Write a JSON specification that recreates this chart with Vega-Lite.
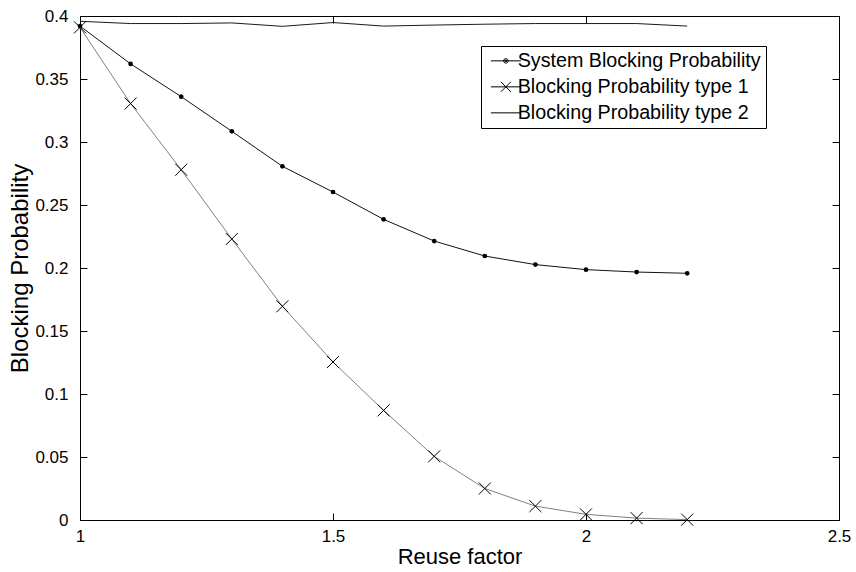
{
  "$schema": "https://vega.github.io/schema/vega-lite/v6.json",
  "width": 759,
  "height": 504,
  "autosize": {"type": "none"},
  "padding": {"left": 80, "top": 16, "right": 17, "bottom": 52},
  "background": "white",
  "config": {
    "font": "Liberation Sans",
    "view": {"stroke": "black", "strokeWidth": 1},
    "axis": {
      "grid": false,
      "domain": false,
      "tickColor": "black",
      "tickSize": -7,
      "tickWidth": 1,
      "labelFont": "Liberation Sans",
      "labelFontSize": 17,
      "labelColor": "black",
      "labelFlush": false,
      "labelOverlap": false,
      "titleFont": "Liberation Sans",
      "titleFontWeight": "normal",
      "titleColor": "black"
    }
  },
  "data": {
    "values": [
      {"x": 1.0, "series": "System Blocking Probability", "p": 0.392},
      {"x": 1.1, "series": "System Blocking Probability", "p": 0.362},
      {"x": 1.2, "series": "System Blocking Probability", "p": 0.336},
      {"x": 1.3, "series": "System Blocking Probability", "p": 0.3085},
      {"x": 1.4, "series": "System Blocking Probability", "p": 0.2807},
      {"x": 1.5, "series": "System Blocking Probability", "p": 0.2603},
      {"x": 1.6, "series": "System Blocking Probability", "p": 0.2386},
      {"x": 1.7, "series": "System Blocking Probability", "p": 0.2214},
      {"x": 1.8, "series": "System Blocking Probability", "p": 0.2095},
      {"x": 1.9, "series": "System Blocking Probability", "p": 0.2027},
      {"x": 2.0, "series": "System Blocking Probability", "p": 0.1987},
      {"x": 2.1, "series": "System Blocking Probability", "p": 0.1968},
      {"x": 2.2, "series": "System Blocking Probability", "p": 0.1958},
      {"x": 1.0, "series": "Blocking Probability type 1", "p": 0.391},
      {"x": 1.1, "series": "Blocking Probability type 1", "p": 0.3305},
      {"x": 1.2, "series": "Blocking Probability type 1", "p": 0.278},
      {"x": 1.3, "series": "Blocking Probability type 1", "p": 0.223},
      {"x": 1.4, "series": "Blocking Probability type 1", "p": 0.1696},
      {"x": 1.5, "series": "Blocking Probability type 1", "p": 0.1254},
      {"x": 1.6, "series": "Blocking Probability type 1", "p": 0.087},
      {"x": 1.7, "series": "Blocking Probability type 1", "p": 0.0505},
      {"x": 1.8, "series": "Blocking Probability type 1", "p": 0.025},
      {"x": 1.9, "series": "Blocking Probability type 1", "p": 0.011},
      {"x": 2.0, "series": "Blocking Probability type 1", "p": 0.0045},
      {"x": 2.1, "series": "Blocking Probability type 1", "p": 0.0015},
      {"x": 2.2, "series": "Blocking Probability type 1", "p": 0.0003},
      {"x": 1.0, "series": "Blocking Probability type 2", "p": 0.3958},
      {"x": 1.1, "series": "Blocking Probability type 2", "p": 0.394},
      {"x": 1.2, "series": "Blocking Probability type 2", "p": 0.394},
      {"x": 1.3, "series": "Blocking Probability type 2", "p": 0.3945},
      {"x": 1.4, "series": "Blocking Probability type 2", "p": 0.3918},
      {"x": 1.5, "series": "Blocking Probability type 2", "p": 0.3948},
      {"x": 1.6, "series": "Blocking Probability type 2", "p": 0.392},
      {"x": 1.7, "series": "Blocking Probability type 2", "p": 0.3928},
      {"x": 1.8, "series": "Blocking Probability type 2", "p": 0.3935},
      {"x": 1.9, "series": "Blocking Probability type 2", "p": 0.394},
      {"x": 2.0, "series": "Blocking Probability type 2", "p": 0.394},
      {"x": 2.1, "series": "Blocking Probability type 2", "p": 0.394},
      {"x": 2.2, "series": "Blocking Probability type 2", "p": 0.392}
    ]
  },
  "layer": [
    {
      "mark": {"type": "line", "strokeWidth": 1},
      "encoding": {
        "x": {
          "field": "x", "type": "quantitative",
          "scale": {"domain": [1, 2.5], "nice": false, "zero": false},
          "axis": {"orient": "bottom", "values": [1, 1.5, 2, 2.5], "format": "~g", "title": "Reuse factor", "titleFontSize": 22, "labelPadding": 15, "titlePadding": 2}
        },
        "y": {
          "field": "p", "type": "quantitative",
          "scale": {"domain": [0, 0.4], "nice": false, "zero": false},
          "axis": {"orient": "left", "values": [0, 0.05, 0.1, 0.15, 0.2, 0.25, 0.3, 0.35, 0.4], "format": "~g", "title": "Blocking Probability", "titleFontSize": 24, "labelPadding": 19, "titlePadding": 2}
        },
        "stroke": {
          "field": "series", "type": "nominal",
          "scale": {"range": ["#808080", "#1a1a1a", "#111111"]},
          "legend": null
        }
      }
    },
    {
      "transform": [{"filter": "datum.series === 'System Blocking Probability'"}],
      "mark": {"type": "point", "shape": "circle", "filled": true, "size": 22, "color": "black", "opacity": 1},
      "encoding": {
        "x": {
          "field": "x", "type": "quantitative",
          "axis": {"orient": "top", "values": [1, 1.5, 2, 2.5], "labels": false, "title": null}
        },
        "y": {
          "field": "p", "type": "quantitative",
          "axis": {"orient": "right", "values": [0, 0.05, 0.1, 0.15, 0.2, 0.25, 0.3, 0.35, 0.4], "labels": false, "title": null}
        }
      }
    },
    {
      "transform": [{"filter": "datum.series === 'Blocking Probability type 1'"}],
      "mark": {"type": "point", "shape": "M-1,-1L1,1M-1,1L1,-1", "filled": false, "size": 144, "stroke": "black", "strokeWidth": 1, "opacity": 1},
      "encoding": {
        "x": {"field": "x", "type": "quantitative", "axis": null},
        "y": {"field": "p", "type": "quantitative", "axis": null}
      }
    },
    {
      "transform": [{"filter": "datum.x > 100"}],
      "mark": {"type": "point", "filled": false, "size": 100, "color": "black", "strokeWidth": 1, "opacity": 1},
      "encoding": {
        "x": {"field": "x", "type": "quantitative", "axis": null},
        "y": {"field": "p", "type": "quantitative", "axis": null},
        "shape": {
          "field": "series", "type": "nominal",
          "scale": {
            "domain": ["System Blocking Probability", "Blocking Probability type 1", "Blocking Probability type 2"],
            "range": [
              "M-3,0L3,0M-0.45,0A0.45,0.45,0,1,0,0.45,0A0.45,0.45,0,1,0,-0.45,0M-0.2,0A0.2,0.2,0,1,0,0.2,0A0.2,0.2,0,1,0,-0.2,0",
              "M-3,0L3,0M-1,-1L1,1M-1,1L1,-1",
              "M-3,0L3,0"
            ]
          },
          "legend": {
            "title": null,
            "orient": "none",
            "legendX": 401,
            "legendY": 30,
            "strokeColor": "black",
            "fillColor": "white",
            "padding": 5,
            "symbolOffset": 10,
            "labelOffset": 2,
            "symbolSize": 100,
            "symbolOpacity": 1,
            "symbolStrokeColor": "black",
            "symbolStrokeWidth": 1,
            "labelFont": "Liberation Sans",
            "labelFontSize": 19.7,
            "labelColor": "black",
            "labelLimit": 400,
            "rowPadding": 5,
            "cornerRadius": 0
          }
        }
      }
    }
  ],
  "resolve": {"axis": {"x": "independent", "y": "independent"}}
}
